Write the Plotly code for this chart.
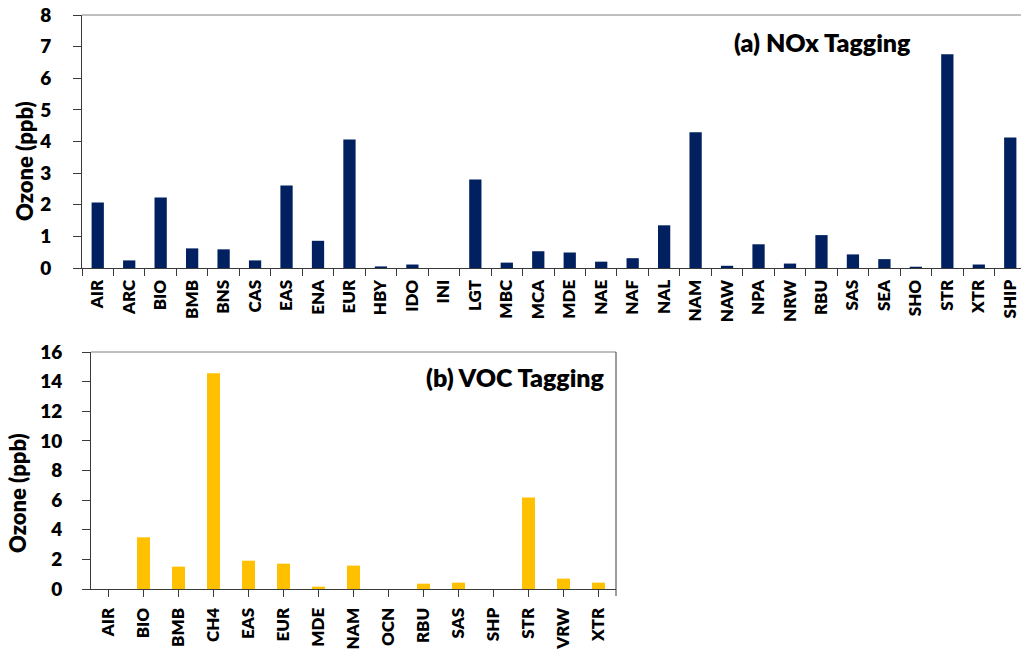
import plotly.graph_objects as go

W, H = 1026, 650  # figure slightly wider than the 1021px window: right edge is cut as in the reference

nox_categories = ["AIR", "ARC", "BIO", "BMB", "BNS", "CAS", "EAS", "ENA", "EUR", "HBY",
                  "IDO", "INI", "LGT", "MBC", "MCA", "MDE", "NAE", "NAF", "NAL", "NAM",
                  "NAW", "NPA", "NRW", "RBU", "SAS", "SEA", "SHO", "STR", "XTR", "SHIP"]
nox_values = [2.07, 0.24, 2.23, 0.62, 0.59, 0.24, 2.61, 0.86, 4.06, 0.05,
              0.11, 0.0, 2.80, 0.17, 0.53, 0.49, 0.20, 0.31, 1.35, 4.29,
              0.07, 0.75, 0.14, 1.04, 0.43, 0.28, 0.04, 6.76, 0.11, 4.13]

voc_categories = ["AIR", "BIO", "BMB", "CH4", "EAS", "EUR", "MDE", "NAM", "OCN", "RBU",
                  "SAS", "SHP", "STR", "VRW", "XTR"]
voc_values = [0.0, 3.49, 1.51, 14.57, 1.91, 1.71, 0.16, 1.58, 0.0, 0.36,
              0.43, 0.0, 6.17, 0.70, 0.43]

nox_ticks = list(range(0, 9))
voc_ticks = list(range(0, 17, 2))

FONT = "Lato"
WEIGHT = 800
NAVY = "#002060"
YELLOW = "#FFC000"
AXIS = "#3a3a3a"
FRAME = "#808080"

# pixel geometry -> paper fractions
top_px = dict(x0=82, x1=1026, y0=15, y1=268)
bot_px = dict(x0=91, x1=616, y0=352, y1=589)


def xd(p):
    return [p["x0"] / W, p["x1"] / W]


def yd(p):
    return [1 - p["y1"] / H, 1 - p["y0"] / H]


fig = go.Figure()
fig.add_trace(go.Bar(x=nox_categories, y=nox_values, marker_color=NAVY,
                     marker_line_width=0, xaxis="x", yaxis="y", width=0.39))
fig.add_trace(go.Bar(x=voc_categories, y=voc_values, marker_color=YELLOW,
                     marker_line_width=0, xaxis="x2", yaxis="y2", width=0.37))

xtick_font = dict(family=FONT, size=17, color="black", weight=WEIGHT)
ytick_font = dict(family=FONT, size=19, color="black", weight=WEIGHT)

common_x = dict(type="category", showgrid=False, showline=True, linecolor=AXIS,
                linewidth=1, ticks="outside", ticklen=7,
                tickcolor=AXIS, tickangle=-90, automargin=False,
                tickfont=xtick_font, ticklabelstandoff=4, showspikes=False)
common_y = dict(showgrid=False, zeroline=False, showline=True, linecolor=AXIS,
                linewidth=1, ticks="outside", ticklen=8, tickcolor=AXIS,
                automargin=False, tickfont=ytick_font, showspikes=False)

n_nox = len(nox_categories)
n_voc = len(voc_categories)
fig.update_layout(
    width=W, height=H,
    margin=dict(l=0, r=0, t=0, b=0),
    paper_bgcolor="white", plot_bgcolor="white",
    showlegend=False,
    hovermode=False,
    xaxis=dict(common_x, domain=xd(top_px), anchor="y", tickson="boundaries",
               range=[-0.5, n_nox - 0.5]),
    yaxis=dict(common_y, domain=yd(top_px), anchor="x", range=[0, 8],
               tickvals=nox_ticks, ticklabelstandoff=18),
    xaxis2=dict(common_x, domain=xd(bot_px), anchor="y2", tickson="labels",
                range=[-0.5, n_voc - 0.5]),
    yaxis2=dict(common_y, domain=yd(bot_px), anchor="x2", range=[0, 16],
                tickvals=voc_ticks, ticklabelstandoff=16),
    # boundary ticks for the lower chart
    xaxis3=dict(domain=xd(bot_px), anchor="y2", overlaying="x2", type="linear",
                range=[-0.5, n_voc - 0.5],
                tickvals=[i - 0.5 for i in range(n_voc + 1)],
                ticks="outside", ticklen=7, tickcolor=AXIS, showticklabels=False,
                showgrid=False, showline=False, zeroline=False),
)

# top border lines of plot areas, right border of the lower chart
for ax, p in (("x", top_px), ("x2", bot_px)):
    fig.add_shape(type="line", xref=f"{ax} domain", yref="paper",
                  x0=0, x1=1, y0=1 - p["y0"] / H, y1=1 - p["y0"] / H,
                  line=dict(color=FRAME, width=1))
fig.add_shape(type="line", xref="x2 domain", yref="y2 domain",
              x0=1, x1=1, y0=-7 / (bot_px["y1"] - bot_px["y0"]), y1=1,
              line=dict(color=AXIS, width=1))

# white strip at the far right of the top panel (reference shows nothing there)
fig.add_shape(type="rect", xref="paper", yref="paper", layer="above",
              x0=1017.5 / W, x1=1.0, y0=1 - 267 / H, y1=1 - 16 / H,
              fillcolor="white", line=dict(width=0))

ann_font = dict(family=FONT, size=22, color="black", weight=WEIGHT)
fig.add_annotation(text="Ozone (ppb)", textangle=-90, xref="paper", yref="paper",
                   x=25 / W, y=1 - 161 / H, showarrow=False, font=ann_font,
                   xanchor="center", yanchor="middle")
fig.add_annotation(text="Ozone (ppb)", textangle=-90, xref="paper", yref="paper",
                   x=18 / W, y=1 - 493 / H, showarrow=False, font=ann_font,
                   xanchor="center", yanchor="middle")

title_font = dict(family=FONT, size=25, color="black", weight=WEIGHT)
fig.add_annotation(text="(a) NOx Tagging", xref="paper", yref="paper",
                   x=913 / W, y=1 - 42 / H, showarrow=False, font=title_font,
                   xanchor="right", yanchor="middle")
fig.add_annotation(text="(b) VOC Tagging", xref="paper", yref="paper",
                   x=607 / W, y=1 - 377 / H, showarrow=False, font=title_font,
                   xanchor="right", yanchor="middle")

page_css = ("html,body{margin:0;padding:0;overflow:hidden;scrollbar-width:none;}"
            "::-webkit-scrollbar{display:none;width:0;height:0;}")
fig.write_html(
    "out.html",
    config={"displayModeBar": False, "staticPlot": True},
    post_script=(
        "var s=document.createElement('style');"
        f"s.textContent='{page_css}';"
        "document.head.appendChild(s);"
        "document.body.style.margin='0';document.body.style.overflow='hidden';"
        "document.documentElement.style.overflow='hidden';"
    ),
)
